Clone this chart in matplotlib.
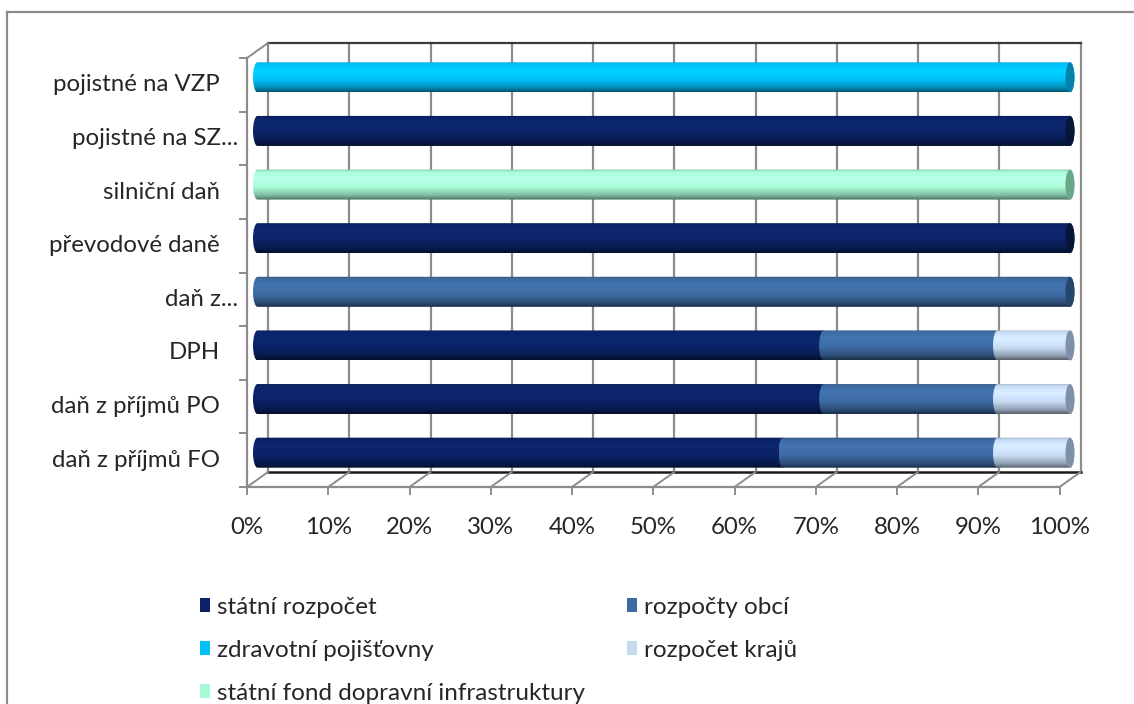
import numpy as np
import matplotlib.pyplot as plt
from matplotlib.path import Path
from matplotlib.patches import PathPatch, Ellipse, Patch
import matplotlib.transforms as mtransforms
from matplotlib.lines import Line2D

plt.rcParams['font.family'] = ['Lato', 'DejaVu Sans']

# kategorie odspodu nahoru
kategorie = ['daň z příjmů FO', 'daň z příjmů PO', 'DPH', 'daň z...',
             'převodové daně', 'silniční daň', 'pojistné na SZ...', 'pojistné na VZP']

# podíly příjemců (v procentech) pro jednotlivé daně
statni_rozpocet = [64.68, 69.68, 69.68, 0, 100, 0, 100, 0]
rozpocty_obci = [26.40, 21.40, 21.40, 100, 0, 0, 0, 0]
rozpocet_kraju = [8.92, 8.92, 8.92, 0, 0, 0, 0, 0]
zdravotni_pojistovny = [0, 0, 0, 0, 0, 0, 0, 100]
sfdi = [0, 0, 0, 0, 0, 100, 0, 0]

procenta = ['0%', '10%', '20%', '30%', '40%', '50%', '60%', '70%', '80%', '90%', '100%']

# poradi vrstev v baru
serie = [
    ('státní rozpočet', statni_rozpocet, '#0b2366', '#061538'),
    ('rozpočty obcí', rozpocty_obci, '#3d6aa1', '#26466e'),
    ('rozpočet krajů', rozpocet_kraju, '#c6daf2', '#7f90a8'),
    ('zdravotní pojišťovny', zdravotni_pojistovny, '#00c0f8', '#0482ad'),
    ('státní fond dopravní infrastruktury', sfdi, '#a8fad6', '#6aa88a'),
]
legenda_poradi = ['státní rozpočet', 'zdravotní pojišťovny',
                  'státní fond dopravní infrastruktury', 'rozpočty obcí', 'rozpočet krajů']

W, H = 1134, 704
fig = plt.figure(figsize=(W / 100, H / 100), dpi=100)

# ramecek grafu
fig.add_artist(Line2D([7 / W, 7 / W], [0, 1 - 12 / H], color='#8c8c8c', lw=1.6))
fig.add_artist(Line2D([7 / W, 1], [1 - 12 / H, 1 - 12 / H], color='#8c8c8c', lw=1.6))

ax = fig.add_axes([257.5 / W, 1 - 479.5 / H, 812.5 / W, 429 / H])
ax.set_xlim(0, 100)
ax.set_ylim(-0.5, len(kategorie) - 0.5)
ax.axis('off')

dx, dy = 10.5, 7.5
zadni = ax.transData + mtransforms.ScaledTranslation(dx / 100, dy / 100, fig.dpi_scale_trans)
predni = ax.transData + mtransforms.ScaledTranslation(-dx / 100, -dy / 100, fig.dpi_scale_trans)

seda = '#8c8c8c'
n = len(kategorie)
y0, y1 = -0.5, n - 0.5

# zadni stena - mrizka
for x in range(0, 101, 10):
    ax.plot([x, x], [y0, y1], color=seda, lw=1.6, transform=zadni, clip_on=False, zorder=1)
ax.plot([0, 100], [y1, y1], color='#3a3a3a', lw=1.6, transform=zadni, clip_on=False, zorder=1)
ax.plot([0, 100], [y0, y0], color='#1a1a1a', lw=1.8, transform=zadni, clip_on=False, zorder=1)

# podlaha a bocni stena
off_x = 2 * dx / 812.5 * 100
off_y = 2 * dy / 429 * n
for x in range(0, 101, 10):
    ax.plot([x, x + off_x], [y0, y0 + off_y], color=seda, lw=1.4, transform=predni,
            clip_on=False, zorder=1)
ax.plot([0, off_x], [y1, y1 + off_y], color=seda, lw=1.4, transform=predni, clip_on=False)
ax.plot([0, 100], [y0, y0], color=seda, lw=1.6, transform=predni, clip_on=False)
ax.plot([0, 0], [y0, y1], color=seda, lw=1.6, transform=predni, clip_on=False)

px_x = 100 / 812.5
px_y = n / 429
for x in range(0, 101, 10):
    ax.plot([x, x], [y0, y0 - 7 * px_y], color=seda, lw=1.4, transform=predni, clip_on=False)
for k in range(n + 1):
    ax.plot([0, -7 * px_x], [k - 0.5, k - 0.5], color=seda, lw=1.4, transform=predni,
            clip_on=False)

# popisky os
for x, lab in zip(range(0, 101, 10), procenta):
    ax.text(x, y0 - 41 * px_y, lab, ha='center', va='center', fontsize=17.3,
            color='#262626', transform=predni, clip_on=False)
for i, lab in enumerate(kategorie):
    posun = 9 if lab.endswith('...') else 27
    ax.text(-posun * px_x, i, lab, ha='right', va='center', fontsize=17.3,
            color='#262626', transform=predni, clip_on=False)

# valcove bary
vyska = 0.56
rx = 4.5 * px_x
t = np.linspace(0, 1, 64)
profil = np.interp(t, [0, 0.08, 0.3, 0.6, 0.85, 1.0], [0.8, 1.0, 1.1, 1.0, 0.75, 0.45])


def segment(x0, x1, y, barva):
    k = 0.5523
    h = vyska / 2
    verts = [(x0, y + h), (x1, y + h),
             (x1 + k * rx, y + h), (x1 + rx, y + k * h), (x1 + rx, y),
             (x1 + rx, y - k * h), (x1 + k * rx, y - h), (x1, y - h),
             (x0, y - h),
             (x0 - k * rx, y - h), (x0 - rx, y - k * h), (x0 - rx, y),
             (x0 - rx, y + k * h), (x0 - k * rx, y + h), (x0, y + h)]
    codes = [Path.MOVETO, Path.LINETO] + [Path.CURVE4] * 6 + [Path.LINETO] + [Path.CURVE4] * 6
    patch = PathPatch(Path(verts, codes), facecolor='none', edgecolor='none',
                      transform=ax.transData)
    rgb = np.array(plt.matplotlib.colors.to_rgb(barva))
    img = np.clip(rgb[None, :] * profil[:, None], 0, 1)[:, None, :]
    im = ax.imshow(img, extent=[x0 - rx, x1 + rx, y - h, y + h], aspect='auto',
                   origin='upper', interpolation='bilinear', zorder=3)
    im.set_clip_box(fig.bbox)
    im.set_clip_path(patch)


for i in range(n):
    vlevo = 0
    posledni = None
    for nazev, hodnoty, barva, cap in serie:
        v = hodnoty[i]
        if v <= 0:
            continue
        segment(vlevo, vlevo + v, i, barva)
        vlevo += v
        posledni = cap
    ax.add_patch(Ellipse((vlevo, i), 2 * rx, vyska, facecolor=posledni,
                         edgecolor='none', zorder=4, clip_on=False))

ax.set_xlim(0, 100)
ax.set_ylim(y0, y1)

# legenda
barvy = {s[0]: s[2] for s in serie}
handles = [Patch(facecolor=barvy[nm], edgecolor='none', label=nm) for nm in legenda_poradi]
fig.legend(handles=handles, loc='upper left', bbox_to_anchor=(178 / W, 1 - 575 / H),
           ncol=2, frameon=False, fontsize=17.5, handlelength=0.42, handleheight=0.5,
           handletextpad=0.3, labelspacing=0.9, columnspacing=1.7,
           labelcolor='#262626')

fig.savefig('out.png', dpi=100)
